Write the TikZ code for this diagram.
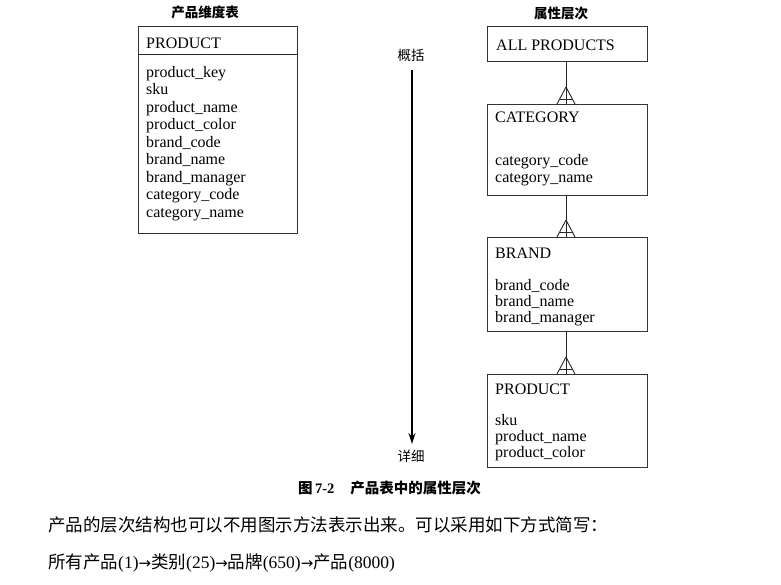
\documentclass[tikz,border=0pt]{standalone}
\usepackage{fontspec}
\setmainfont{Liberation Serif}
\newfontfamily\cjk{Noto Sans CJK SC}
\newfontfamily\sym{DejaVu Sans}
\usetikzlibrary{arrows.meta}
\tikzset{
  ebox/.style={draw=black!80, line width=0.9pt, anchor=north west, inner sep=0pt},
  attr/.style={anchor=base west, inner sep=0pt, font=\fontsize{16}{17}\selectfont},
  ttl/.style={inner sep=0pt, font=\cjk\bfseries\fontsize{13.5}{15}\selectfont},
  body/.style={anchor=west, inner sep=0pt, font=\fontsize{17.5}{20}\selectfont},
  link/.style={draw=black!85, line width=0.9pt},
}
\newcommand{\arr}{{\sym\fontsize{15}{16}\selectfont→}}
\begin{document}
\begin{tikzpicture}[x=1pt,y=-1pt]
\useasboundingbox (0,0) rectangle (781,584);
% titles
\node[ttl] (t1) at (205,12) {产品维度表};
\node[ttl] (t2) at (561,13) {属性层次};
% left table
\node[ebox, minimum width=159, minimum height=207] (lbox) at (138,26) {};
\coordinate (dl) at (138,54);
\coordinate (dr) at (297,54);
\draw[link] (dl) -- (dr);
\node[attr] (lh) at (146,48) {PRODUCT};
\foreach \t [count=\i from 0] in {product\_key,sku,product\_name,product\_color,brand\_code,brand\_name,brand\_manager,category\_code,category\_name}
  \node[attr] (la\i) at (146,77+17.5*\i) {\t};
% arrow
\node[ttl, font=\cjk\fontsize{13.5}{15}\selectfont] (gk) at (411,55) {概括};
\node[ttl, font=\cjk\fontsize{13.5}{15}\selectfont] (xx) at (411,456) {详细};
\coordinate (as) at (412,70);
\coordinate (ae) at (412,444);
\draw[line width=1.4pt, -{Stealth[length=11pt,width=7pt]}] (as) -- (ae);
% right boxes
\node[ebox, minimum width=160, minimum height=35] (ap) at (487,26) {};
\node[attr] (aph) at (496,50) {ALL PRODUCTS};
\node[ebox, minimum width=160, minimum height=91] (cat) at (487,104) {};
\node[attr] (cath) at (495,122) {CATEGORY};
\node[attr] (cat1) at (495,165) {category\_code};
\node[attr] (cat2) at (495,182) {category\_name};
\node[ebox, minimum width=160, minimum height=94] (br) at (487,237) {};
\node[attr] (brh) at (495,258) {BRAND};
\node[attr] (br1) at (495,290) {brand\_code};
\node[attr] (br2) at (495,306) {brand\_name};
\node[attr] (br3) at (495,322) {brand\_manager};
\node[ebox, minimum width=160, minimum height=93] (pr) at (487,374) {};
\node[attr] (prh) at (495,394) {PRODUCT};
\node[attr] (pr1) at (495,425) {sku};
\node[attr] (pr2) at (495,441) {product\_name};
\node[attr] (pr3) at (495,457) {product\_color};
% connectors with crow's feet
\foreach \a/\b in {ap/cat, cat/br, br/pr}{
  \draw[link] (\a.south -| 566,0) -- ([yshift=17]\b.north -| 566,0);
  \draw[link] ([yshift=17]\b.north -| 566,0) -- (\b.north -| 557,0);
  \draw[link] ([yshift=17]\b.north -| 566,0) -- (\b.north -| 566,0);
  \draw[link] ([yshift=17]\b.north -| 566,0) -- (\b.north -| 575,0);
  \draw[link] ([yshift=5]\b.north -| 559,0) -- ([yshift=5]\b.north -| 573,0);
}
% caption
\node[anchor=west, inner sep=0pt, font=\bfseries\fontsize{14.5}{16}\selectfont] (cap) at (298,488) {{\cjk 图}\,7-2\hspace{16pt}{\cjk 产品表中的属性层次}};
% body text
\node[body] (p1) at (48,525) {\cjk 产品的层次结构也可以不用图示方法表示出来。可以采用如下方式简写：};
\node[body] (p2) at (48,563) {{\cjk 所有产品}(1)\arr{\cjk 类别}(25)\arr{\cjk 品牌}(650)\arr{\cjk 产品}(8000)};
\end{tikzpicture}
\end{document}
